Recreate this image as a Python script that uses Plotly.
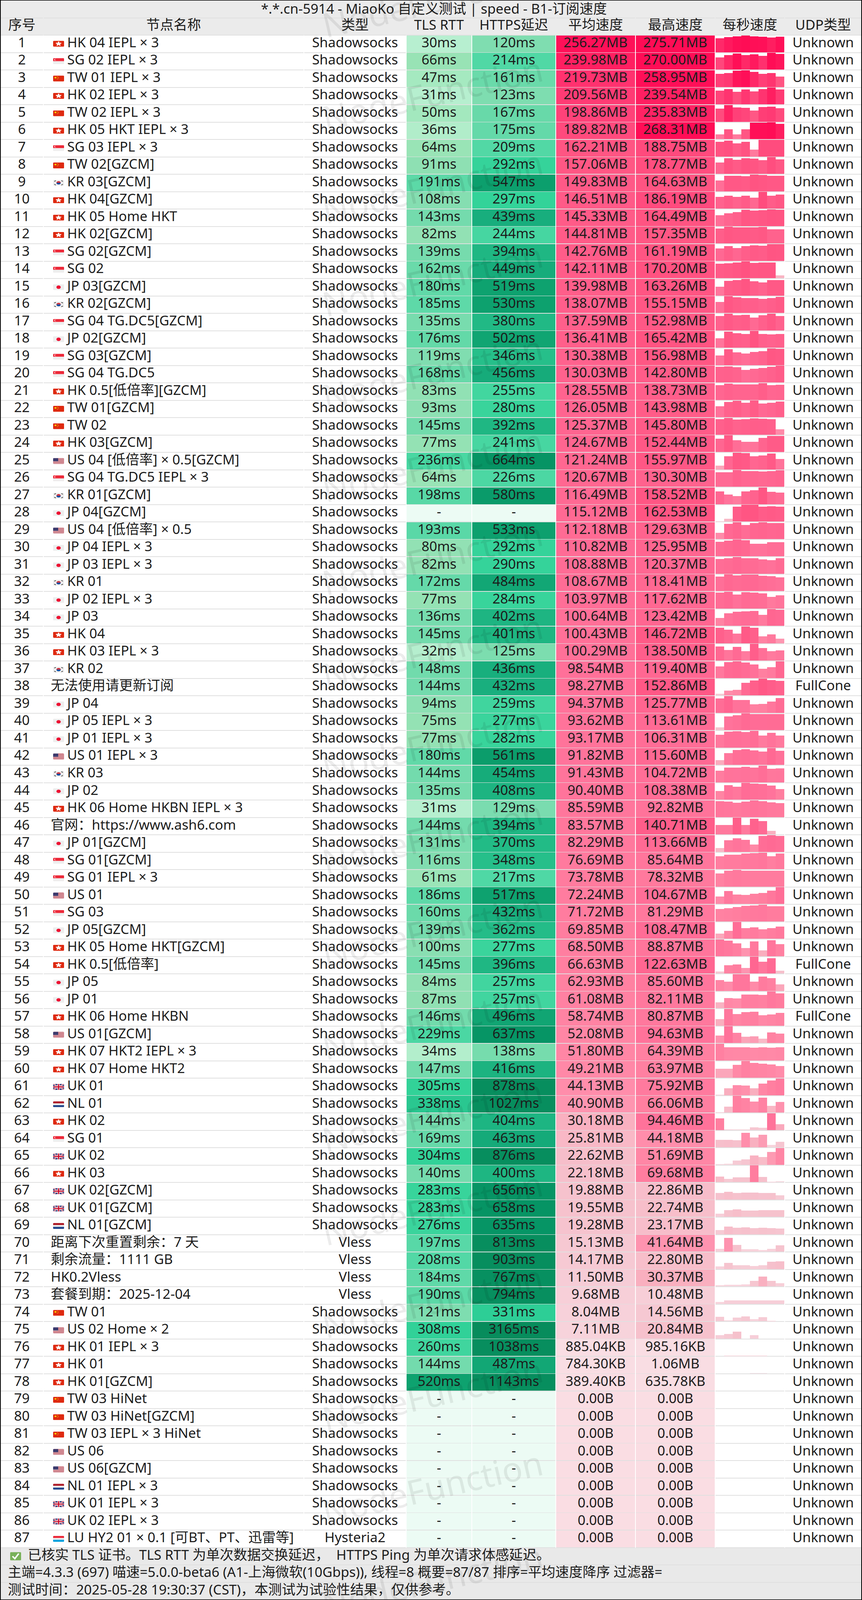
import base64
import numpy as np
import plotly.graph_objects as go

W, H = 2207, 5338
TITLE = "*.*.cn-5914 - MiaoKo 自定义测试 | speed - B1-订阅速度"
HEADERS = ["序号", "节点名称", "类型", "TLS RTT", "HTTPS延迟", "平均速度", "最高速度", "每秒速度", "UDP类型"]
FOOTER = [
    "已核实 TLS 证书。TLS RTT 为单次数据交换延迟，  HTTPS Ping 为单次请求体感延迟。",
    "主端=4.3.3 (697) 喵速=5.0.0-beta6 (A1-上海微软(10Gbps)), 线程=8 概要=87/87 排序=平均速度降序 过滤器=",
    "测试时间：2025-05-28 19:30:37 (CST)，本测试为试验性结果，仅供参考。",
]
WATERMARK = "NodeFunction"

names = [
    "HK 04 IEPL × 3", "SG 02 IEPL × 3", "TW 01 IEPL × 3", "HK 02 IEPL × 3", "TW 02 IEPL × 3",
    "HK 05 HKT IEPL × 3", "SG 03 IEPL × 3", "TW 02[GZCM]", "KR 03[GZCM]", "HK 04[GZCM]",
    "HK 05 Home HKT", "HK 02[GZCM]", "SG 02[GZCM]", "SG 02", "JP 03[GZCM]",
    "KR 02[GZCM]", "SG 04 TG.DC5[GZCM]", "JP 02[GZCM]", "SG 03[GZCM]", "SG 04 TG.DC5",
    "HK 0.5[低倍率][GZCM]", "TW 01[GZCM]", "TW 02", "HK 03[GZCM]", "US 04 [低倍率] × 0.5[GZCM]",
    "SG 04 TG.DC5 IEPL × 3", "KR 01[GZCM]", "JP 04[GZCM]", "US 04 [低倍率] × 0.5", "JP 04 IEPL × 3",
    "JP 03 IEPL × 3", "KR 01", "JP 02 IEPL × 3", "JP 03", "HK 04",
    "HK 03 IEPL × 3", "KR 02", "无法使用请更新订阅", "JP 04", "JP 05 IEPL × 3",
    "JP 01 IEPL × 3", "US 01 IEPL × 3", "KR 03", "JP 02", "HK 06 Home HKBN IEPL × 3",
    "官网：https://www.ash6.com", "JP 01[GZCM]", "SG 01[GZCM]", "SG 01 IEPL × 3", "US 01",
    "SG 03", "JP 05[GZCM]", "HK 05 Home HKT[GZCM]", "HK 0.5[低倍率]", "JP 05",
    "JP 01", "HK 06 Home HKBN", "US 01[GZCM]", "HK 07 HKT2 IEPL × 3", "HK 07 Home HKT2",
    "UK 01", "NL 01", "HK 02", "SG 01", "UK 02",
    "HK 03", "UK 02[GZCM]", "UK 01[GZCM]", "NL 01[GZCM]", "距离下次重置剩余：7 天",
    "剩余流量：1111 GB", "HK0.2Vless", "套餐到期：2025-12-04", "TW 01", "US 02 Home × 2",
    "HK 01 IEPL × 3", "HK 01", "HK 01[GZCM]", "TW 03 HiNet", "TW 03 HiNet[GZCM]",
    "TW 03 IEPL × 3 HiNet", "US 06", "US 06[GZCM]", "NL 01 IEPL × 3", "UK 01 IEPL × 3",
    "UK 02 IEPL × 3", "LU HY2 01 × 0.1 [可BT、PT、迅雷等]",
]
types = ["Shadowsocks"] * 69 + ["Vless"] * 4 + ["Shadowsocks"] * 13 + ["Hysteria2"]
tls_rtt = [
    30, 66, 47, 31, 50, 36, 64, 91, 191, 108, 143, 82, 139, 162, 180, 185, 135, 176, 119, 168,
    83, 93, 145, 77, 236, 64, 198, None, 193, 80, 82, 172, 77, 136, 145, 32, 148, 144, 94, 75,
    77, 180, 144, 135, 31, 144, 131, 116, 61, 186, 160, 139, 100, 145, 84, 87, 146, 229, 34, 147,
    305, 338, 144, 169, 304, 140, 283, 283, 276, 197, 208, 184, 190, 121, 308, 260, 144, 520,
    None, None, None, None, None, None, None, None, None,
]
https_delay = [
    120, 214, 161, 123, 167, 175, 209, 292, 547, 297, 439, 244, 394, 449, 519, 530, 380, 502, 346, 456,
    255, 280, 392, 241, 664, 226, 580, None, 533, 292, 290, 484, 284, 402, 401, 125, 436, 432, 259, 277,
    282, 561, 454, 408, 129, 394, 370, 348, 217, 517, 432, 362, 277, 396, 257, 257, 496, 637, 138, 416,
    878, 1027, 404, 463, 876, 400, 656, 658, 635, 813, 903, 767, 794, 331, 3165, 1038, 487, 1143,
    None, None, None, None, None, None, None, None, None,
]
avg_speed = [
    "256.27MB", "239.98MB", "219.73MB", "209.56MB", "198.86MB", "189.82MB", "162.21MB", "157.06MB", "149.83MB", "146.51MB",
    "145.33MB", "144.81MB", "142.76MB", "142.11MB", "139.98MB", "138.07MB", "137.59MB", "136.41MB", "130.38MB", "130.03MB",
    "128.55MB", "126.05MB", "125.37MB", "124.67MB", "121.24MB", "120.67MB", "116.49MB", "115.12MB", "112.18MB", "110.82MB",
    "108.88MB", "108.67MB", "103.97MB", "100.64MB", "100.43MB", "100.29MB", "98.54MB", "98.27MB", "94.37MB", "93.62MB",
    "93.17MB", "91.82MB", "91.43MB", "90.40MB", "85.59MB", "83.57MB", "82.29MB", "76.69MB", "73.78MB", "72.24MB",
    "71.72MB", "69.85MB", "68.50MB", "66.63MB", "62.93MB", "61.08MB", "58.74MB", "52.08MB", "51.80MB", "49.21MB",
    "44.13MB", "40.90MB", "30.18MB", "25.81MB", "22.62MB", "22.18MB", "19.88MB", "19.55MB", "19.28MB", "15.13MB",
    "14.17MB", "11.50MB", "9.68MB", "8.04MB", "7.11MB", "885.04KB", "784.30KB", "389.40KB",
    "0.00B", "0.00B", "0.00B", "0.00B", "0.00B", "0.00B", "0.00B", "0.00B", "0.00B",
]
max_speed = [
    "275.71MB", "270.00MB", "258.95MB", "239.54MB", "235.83MB", "268.31MB", "188.75MB", "178.77MB", "164.63MB", "186.19MB",
    "164.49MB", "157.35MB", "161.19MB", "170.20MB", "163.26MB", "155.15MB", "152.98MB", "165.42MB", "156.98MB", "142.80MB",
    "138.73MB", "143.98MB", "145.80MB", "152.44MB", "155.97MB", "130.30MB", "158.52MB", "162.53MB", "129.63MB", "125.95MB",
    "120.37MB", "118.41MB", "117.62MB", "123.42MB", "146.72MB", "138.50MB", "119.40MB", "152.86MB", "125.77MB", "113.61MB",
    "106.31MB", "115.60MB", "104.72MB", "108.38MB", "92.82MB", "140.71MB", "113.66MB", "85.64MB", "78.32MB", "104.67MB",
    "81.29MB", "108.47MB", "88.87MB", "122.63MB", "85.60MB", "82.11MB", "80.87MB", "94.63MB", "64.39MB", "63.97MB",
    "75.92MB", "66.06MB", "94.46MB", "44.18MB", "51.69MB", "69.68MB", "22.86MB", "22.74MB", "23.17MB", "41.64MB",
    "22.80MB", "30.37MB", "10.48MB", "14.56MB", "20.84MB", "985.16KB", "1.06MB", "635.78KB",
    "0.00B", "0.00B", "0.00B", "0.00B", "0.00B", "0.00B", "0.00B", "0.00B", "0.00B",
]
udp_type = ["Unknown"] * 37 + ["FullCone"] + ["Unknown"] * 15 + ["FullCone"] + ["Unknown"] * 2 + ["FullCone"] + ["Unknown"] * 30

# per-second speed samples in MB/s, eight per row
per_second = [
    [229, 246, 262, 276, 262, 256, 241, 256], [193, 231, 260, 231, 246, 222, 270, 251],
    [203, 213, 250, 259, 231, 203, 217, 162], [197, 218, 180, 214, 184, 218, 240, 210],
    [185, 236, 202, 194, 156, 206, 211, 190], [76, 158, 76, 158, 263, 263, 268, 241],
    [166, 177, 146, 166, 79, 185, 185, 185], [122, 166, 148, 166, 163, 145, 179, 156],
    [104, 153, 153, 148, 165, 160, 153, 153], [129, 145, 132, 145, 121, 186, 142, 156],
    [104, 124, 135, 158, 150, 156, 164, 161], [140, 157, 151, 151, 149, 154, 132, 132],
    [117, 140, 123, 140, 147, 143, 161, 158], [145, 152, 158, 170, 155, 158, 158, 28],
    [85, 142, 149, 163, 139, 129, 152, 152], [101, 155, 144, 137, 138, 130, 138, 149],
    [130, 150, 139, 142, 115, 136, 153, 130], [91, 157, 141, 137, 165, 134, 131, 134],
    [91, 147, 118, 107, 122, 130, 157, 152], [133, 135, 129, 108, 116, 125, 133, 143],
    [122, 133, 128, 128, 128, 139, 122, 124], [95, 132, 140, 125, 144, 117, 125, 134],
    [136, 146, 132, 134, 140, 138, 134, 47], [122, 152, 107, 91, 93, 128, 146, 146],
    [34, 122, 156, 150, 122, 129, 148, 95], [113, 113, 130, 123, 123, 118, 123, 127],
    [122, 92, 75, 122, 131, 159, 118, 109], [2, 26, 143, 163, 163, 143, 147, 143],
    [47, 116, 128, 109, 124, 128, 123, 124], [109, 119, 126, 121, 95, 95, 105, 105],
    [106, 112, 120, 112, 112, 103, 98, 112], [102, 118, 112, 115, 117, 109, 104, 98],
    [110, 117, 99, 113, 111, 107, 80, 91], [58, 93, 105, 108, 110, 80, 123, 117],
    [135, 119, 85, 147, 137, 59, 79, 40], [118, 88, 114, 77, 138, 103, 77, 86],
    [82, 114, 118, 111, 97, 66, 77, 119], [14, 45, 52, 116, 137, 153, 141, 132],
    [107, 126, 95, 95, 63, 66, 85, 110], [19, 92, 100, 113, 108, 108, 110, 110],
    [82, 101, 102, 98, 106, 77, 93, 77], [32, 82, 103, 107, 100, 91, 116, 97],
    [72, 93, 92, 96, 93, 104, 84, 86], [57, 95, 84, 108, 104, 102, 92, 69],
    [89, 85, 80, 85, 93, 89, 81, 78], [79, 79, 140, 79, 132, 113, 30, 0],
    [26, 78, 91, 81, 50, 107, 114, 107], [67, 75, 75, 80, 82, 85, 67, 80],
    [61, 75, 78, 74, 74, 74, 74, 74], [47, 81, 60, 56, 64, 69, 84, 105],
    [60, 64, 69, 75, 78, 81, 73, 73], [34, 52, 108, 70, 75, 62, 70, 78],
    [89, 82, 68, 42, 79, 31, 85, 63], [14, 61, 67, 41, 123, 86, 113, 21],
    [56, 47, 85, 85, 48, 74, 65, 34], [29, 51, 48, 68, 68, 65, 82, 73],
    [31, 81, 57, 65, 67, 51, 54, 61], [42, 95, 59, 35, 38, 26, 61, 53],
    [64, 51, 50, 50, 49, 50, 49, 51], [34, 34, 50, 64, 57, 54, 51, 45],
    [2, 31, 46, 43, 31, 53, 66, 76], [2, 23, 66, 58, 44, 59, 27, 42],
    [66, 5, 3, 3, 16, 13, 94, 33], [22, 23, 21, 44, 30, 38, 7, 17],
    [2, 3, 13, 17, 29, 24, 39, 52], [24, 14, 20, 20, 70, 21, 2, 4],
    [19.5, 22.8, 20, 21, 21, 19.5, 20, 13], [10, 20, 22.7, 18.5, 18.5, 20, 20, 20],
    [13, 23, 20, 21, 18, 20, 19, 17], [9, 41.6, 20, 7, 7, 5, 8, 19],
    [7.5, 18, 12, 11, 9.5, 11, 21.5, 22.8], [4, 5, 5, 6, 16.5, 30, 16.5, 9.5],
    [5.4, 10, 10, 10, 10, 10, 10, 10], [13.4, 2.7, 11, 14.5, 6.2, 12.5, 1.8, 0],
    [10, 14.4, 20.8, 0, 10, 0, 0, 0], [0, 0.9, 0.9, 0.9, 0.9, 0.9, 0, 0],
    [0, 0, 0, 0, 1.05, 1.0, 0, 0], [0, 0, 0, 0, 0, 0, 0, 0],
] + [[0] * 8] * 9

# ---------- layout constants ----------
ROW = 58
LINE = 2
TOP_RULE = 2
TABLE_Y = 118
COLS = [(2, 110), (112, 777), (779, 1039), (1041, 1207), (1209, 1422), (1424, 1626), (1628, 1830), (1832, 2008), (2010, 2205)]
SPARK_BARS = 8
SPARK_FLOOR = 50.0   # bar scale never drops below this many MB/s
FONT = "Noto Sans, Noto Sans CJK SC"
FS = 35
INK = "#1c1c1c"
GRID = "#e0e0e0"
HEAD_BG = "#ebebeb"
FOOT_BG = "#e9e9e9"

LAT_STOPS = [(0, "#bdf1d4"), (30, "#b7efd0"), (47, "#a5e9c0"), (66, "#98e3b5"), (91, "#8ee0b3"), (120, "#7fddb0"),
             (170, "#66d9a9"), (214, "#50d8a5"), (297, "#33d399"), (331, "#2dce96"), (346, "#26bf8a"), (394, "#1fb783"),
             (439, "#18ae7d"), (519, "#0ea26f"), (635, "#069565"), (813, "#078e5e"), (3000, "#078c5c")]
SPD_STOPS = [(0, "#fadde3"), (1, "#f9dde3"), (8, "#f7d1da"), (14, "#f6c9d3"), (19, "#f6c3ce"), (22, "#f6bfcb"),
             (26, "#f9b8c6"), (30, "#f9b0c0"), (44, "#ff8dab"), (52, "#ff86a5"), (70, "#ff7d9f"), (95, "#ff729a"),
             (125, "#ff6590"), (145, "#ff5b88"), (162, "#ff5583"), (190, "#ff4a7d"), (199, "#ff4279"), (210, "#ff3b74"),
             (220, "#ff326f"), (240, "#ff1f61"), (256, "#ff1058"), (275, "#ff0c55")]


def ramp(stops, v):
    xs = [s[0] for s in stops]
    rgb = [[int(s[1][i:i + 2], 16) for s in stops] for i in (1, 3, 5)]
    return "rgb(%d,%d,%d)" % tuple(int(round(np.interp(v, xs, c))) for c in rgb)


def to_mb(s):
    if s.endswith("MB"):
        return float(s[:-2])
    if s.endswith("KB"):
        return float(s[:-2]) / 1024
    return float(s[:-1]) / 1024 / 1024


def center(c):
    return (COLS[c][0] + COLS[c][1]) / 2


def span(c):
    return COLS[c][1] - COLS[c][0]


def rects(xs, widths, bottoms, heights, colors):
    """Upward bars on a reversed y axis."""
    return go.Bar(x=xs, y=[-h for h in heights], base=bottoms, width=widths,
                  marker=dict(color=colors, line=dict(width=0)), hoverinfo="skip", showlegend=False)


def label(xs, ys, texts, pos="middle center", size=FS):
    return go.Scatter(x=xs, y=ys, text=texts, mode="text", textposition=pos,
                      textfont=dict(family=FONT, size=size, color=INK), hoverinfo="skip", showlegend=False,
                      cliponaxis=False)


n = len(names)
row_top = [TABLE_Y + i * ROW for i in range(n)]
cell_h = ROW - LINE
fig = go.Figure()

# header / title / footer bands
foot_top = TABLE_Y + n * ROW
fig.add_trace(rects([W / 2] * 5, [COLS[-1][1] - COLS[0][0]] * 5,
                    [TOP_RULE + cell_h + LINE + cell_h + LINE, foot_top + cell_h, foot_top + ROW + cell_h,
                     foot_top + 2 * ROW + cell_h, TOP_RULE + cell_h + LINE],
                    [cell_h * 2 + LINE, cell_h, cell_h, cell_h, cell_h],
                    [HEAD_BG, FOOT_BG, FOOT_BG, FOOT_BG, HEAD_BG]))
# grid segments, one per column and row, including the rule under title and header
seg_x, seg_w, seg_b = [], [], []
for c in range(len(COLS)):
    for y in [TOP_RULE + cell_h + LINE] + [TABLE_Y] + [t + ROW for t in row_top]:
        seg_x.append(center(c)); seg_w.append(span(c)); seg_b.append(y)
fig.add_trace(rects(seg_x, seg_w, seg_b, [LINE] * len(seg_x), [GRID] * len(seg_x)))
# footer rules
fig.add_trace(rects([W / 2] * 2, [COLS[-1][1] - COLS[0][0]] * 2, [foot_top + ROW, foot_top + 2 * ROW],
                    [LINE] * 2, [GRID] * 2))

# latency and speed cells
bottoms = [t + cell_h for t in row_top]
for c, vals in ((3, tls_rtt), (4, https_delay)):
    fig.add_trace(rects([center(c)] * n, [span(c)] * n, bottoms, [cell_h] * n,
                        ["#ecfbf4" if v is None else ramp(LAT_STOPS, v) for v in vals]))
for c, vals in ((5, avg_speed), (6, max_speed)):
    fig.add_trace(rects([center(c)] * n, [span(c)] * n, bottoms, [cell_h] * n,
                        [ramp(SPD_STOPS, to_mb(v)) for v in vals]))

# per-second bars
bw = span(7) / SPARK_BARS
sx, sb, sh, sc = [], [], [], []
for i, samples in enumerate(per_second):
    scale = max(to_mb(max_speed[i]), SPARK_FLOOR)
    for j, v in enumerate(samples):
        if v > 0:
            sx.append(COLS[7][0] + (j + 0.5) * bw)
            sb.append(bottoms[i])
            sh.append(min(v / scale, 1) * cell_h)
            sc.append(ramp(SPD_STOPS, v))
fig.add_trace(rects(sx, [bw] * len(sx), sb, sh, sc))

# texts
mid = [t + cell_h / 2 for t in row_top]
fig.add_trace(label([1111], [TOP_RULE + cell_h / 2 + 4], [TITLE]))
head_y = TOP_RULE + cell_h + LINE + cell_h / 2
fig.add_trace(label([center(c) for c in range(len(HEADERS))], [head_y] * len(HEADERS), HEADERS))
fig.add_trace(label([center(0)] * n, mid, [str(i + 1) for i in range(n)]))
FLAG_CODES = {"HK", "SG", "TW", "KR", "JP", "US", "UK", "NL", "LU"}
flagged = [nm.split(" ")[0] in FLAG_CODES for nm in names]
fig.add_trace(label([172 if f else 130 for f in flagged], mid, names, "middle right"))
fig.add_trace(label([center(2)] * n, mid, types))
fig.add_trace(label([center(3)] * n, mid, ["-" if v is None else f"{v}ms" for v in tls_rtt]))
fig.add_trace(label([center(4)] * n, mid, ["-" if v is None else f"{v}ms" for v in https_delay]))
fig.add_trace(label([center(5)] * n, mid, avg_speed))
fig.add_trace(label([center(6)] * n, mid, max_speed))
fig.add_trace(label([center(8)] * n, mid, udp_type))
foot_mid = [foot_top + k * ROW + cell_h / 2 for k in range(3)]
fig.add_trace(label([71, 20, 20], foot_mid, FOOTER, "middle right"))


# small flag and check icons
def svg_uri(body, w=28, h=20):
    svg = f'<svg xmlns="http://www.w3.org/2000/svg" viewBox="0 0 {w} {h}" width="{w*4}" height="{h*4}" preserveAspectRatio="none"><defs><clipPath id="c"><rect width="{w}" height="{h}" rx="2.5"/></clipPath></defs><g clip-path="url(#c)">{body}</g></svg>'
    return "data:image/svg+xml;base64," + base64.b64encode(svg.encode()).decode()


RED = "#de2910"
STARS = "".join(f'<circle cx="{x}" cy="{y}" r="{r}" fill="#ffde00"/>' for x, y, r in
                [(6, 7, 2.6), (11, 3.5, 0.9), (13, 6, 0.9), (13, 9, 0.9), (11, 11.5, 0.9)])
PETALS = "".join(f'<ellipse cx="14" cy="6.2" rx="2" ry="3.6" fill="#fff" transform="rotate({a} 14 10)"/>' for a in range(0, 360, 72))
UK_BODY = ('<rect width="28" height="20" fill="#012169"/>'
           '<path d="M0 0L28 20M28 0L0 20" stroke="#fff" stroke-width="4"/>'
           '<path d="M0 0L28 20M28 0L0 20" stroke="#c8102e" stroke-width="1.4"/>'
           '<path d="M14 0V20M0 10H28" stroke="#fff" stroke-width="6"/>'
           '<path d="M14 0V20M0 10H28" stroke="#c8102e" stroke-width="3.4"/>')
US_STRIPES = "".join(f'<rect y="{k * 20 / 13:.2f}" width="28" height="{20 / 13:.2f}" fill="#b22234"/>' for k in range(0, 13, 2))
FLAG_SVG = {
    "HK": f'<rect width="28" height="20" fill="{RED}"/>{PETALS}',
    "TW": f'<rect width="28" height="20" fill="{RED}"/>{STARS}',
    "SG": '<rect width="28" height="20" fill="#eee"/><rect width="28" height="10" fill="#ed2939"/><circle cx="6" cy="5" r="3" fill="#fff"/><circle cx="7.2" cy="5" r="2.8" fill="#ed2939"/>',
    "JP": '<rect width="28" height="20" fill="#eeeeee"/><circle cx="14" cy="10" r="5.6" fill="#ed0f32"/>',
    "KR": '<rect width="28" height="20" fill="#eeeeee"/><path d="M8.4 10a5.6 5.6 0 0 1 11.2 0z" fill="#cd2e3a"/><path d="M8.4 10a5.6 5.6 0 0 0 11.2 0z" fill="#0047a0"/>'
          '<path d="M3 5L7 2.5M3 15L7 17.5M25 5L21 2.5M25 15L21 17.5" stroke="#333" stroke-width="2"/>',
    "US": f'<rect width="28" height="20" fill="#eee"/>{US_STRIPES}<rect width="13" height="10.8" fill="#3c3b6e"/>',
    "UK": UK_BODY,
    "NL": '<rect width="28" height="20" fill="#eee"/><rect width="28" height="7" fill="#ae1c28"/><rect y="13" width="28" height="7" fill="#21468b"/>',
    "LU": '<rect width="28" height="20" fill="#eee"/><rect width="28" height="7" fill="#ed2939"/><rect y="13" width="28" height="7" fill="#00a1de"/>',
}
FLAG_URI = {k: svg_uri(v) for k, v in FLAG_SVG.items()}
images = [dict(source=FLAG_URI[names[i].split(" ")[0]], xref="x", yref="y", x=136, y=mid[i] - 10, sizex=28, sizey=20,
               xanchor="left", yanchor="top", sizing="stretch", layer="above")
          for i in range(n) if flagged[i]]
CHECK = svg_uri('<rect width="28" height="28" fill="#78b159"/><path d="M6 14l6 8l10-17" stroke="#fff" stroke-width="4" fill="none"/>', 28, 28)
images.append(dict(source=CHECK, xref="x", yref="y", x=26, y=foot_mid[0] - 14, sizex=28, sizey=28,
                   xanchor="left", yanchor="top", sizing="stretch", layer="above"))

# watermark column
WM_X, WM_STEP, WM_COUNT = 1107, 310, 18
annotations = [dict(text=WATERMARK, x=WM_X, y=k * WM_STEP, xref="x", yref="y", showarrow=False, textangle=-13,
                    font=dict(family="Noto Sans", size=87, color="rgba(0,0,0,0.075)"))
               for k in range(WM_COUNT)]

fig.update_layout(
    width=W, height=H, margin=dict(l=0, r=0, t=0, b=0, pad=0), paper_bgcolor="#000000", plot_bgcolor="#000000",
    barmode="overlay", bargap=0, showlegend=False, hovermode=False,
    xaxis=dict(range=[0, W], visible=False, fixedrange=True),
    yaxis=dict(range=[H, 0], visible=False, fixedrange=True),
    images=images, annotations=annotations,
    shapes=[dict(type="rect", layer="below", xref="x", yref="y", x0=2, x1=2205, y0=2, y1=H - 2,
                 fillcolor="#ffffff", line=dict(width=0))],
)
# The browser may give a shorter window than asked for; fit the whole table into what it really offers.
FIT = """
document.body.style.margin='0';document.documentElement.style.overflow='hidden';
var gd=document.getElementsByClassName('plotly-graph-div')[0];
if(window.innerHeight<%d){Plotly.relayout(gd,{height:window.innerHeight});}
""" % H
fig.write_html("out.html", config=dict(displayModeBar=False), post_script=FIT)
